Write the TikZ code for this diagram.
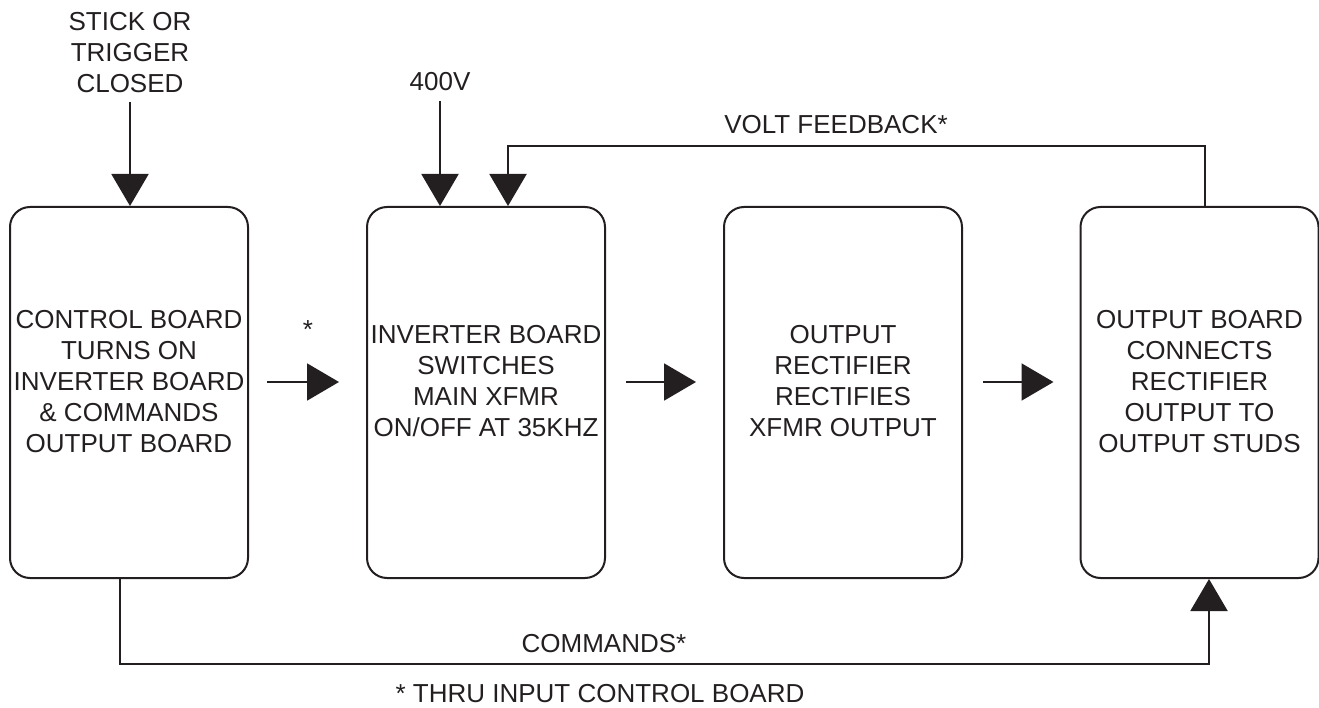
\documentclass[tikz,border=0pt]{standalone}
\usepackage{fontspec}
\setmainfont{Liberation Sans}
\usetikzlibrary{arrows.meta,calc}
\definecolor{ink}{HTML}{231F20}
\begin{document}
\begin{tikzpicture}[x=1pt,y=-1pt,
  ink/.style={draw=ink,line width=2pt},
  blockbox/.style={ink,rounded corners=20pt,minimum width=238pt,minimum height=371pt,inner sep=0pt},
  txt/.style={text=ink,font=\fontsize{26pt}{31pt}\selectfont,align=center,inner sep=0pt},
  arr/.style={ink,-{Triangle[length=32pt,width=37pt]}}
]
\useasboundingbox (0,0) rectangle (1319,708);
% boxes
\node[blockbox] (b1) at (129,392.5) {};
\node[blockbox] (b2) at (486,392.5) {};
\node[blockbox] (b3) at (843,392.5) {};
\node[blockbox] (b4) at (1199.5,392.5) {};
% box texts
\node[txt] (t1) at (129,382) {CONTROL BOARD\\TURNS ON\\INVERTER BOARD\\\& COMMANDS\\OUTPUT BOARD};
\node[txt] (t2) at (486,381) {INVERTER BOARD\\SWITCHES\\MAIN XFMR\\ON/OFF AT 35KHZ};
\node[txt] (t3) at (843,381) {OUTPUT\\RECTIFIER\\RECTIFIES\\XFMR OUTPUT};
\node[txt] (t4) at (1199.5,382) {OUTPUT BOARD\\CONNECTS\\RECTIFIER\\OUTPUT TO\\OUTPUT STUDS};
% labels
\node[txt] (stick) at (130,53) {STICK OR\\TRIGGER\\CLOSED};
\node[txt] (v400) at (440,81.5) {400V};
\node[txt,anchor=base] (star) at (308,338) {*};
\node[txt,anchor=base] (vfb) at (836,134) {VOLT FEEDBACK*};
\node[txt,anchor=base] (cmd) at (604,652) {COMMANDS*};
\node[txt,anchor=base] (note) at (600,702) {* THRU INPUT CONTROL BOARD};
% input arrows
\draw[arr] ([yshift=-9pt]stick.south) -- (stick.south |- b1.north);
\draw[arr] ([yshift=-10pt]v400.south) -- (v400.south |- b2.north);
% forward arrows
\draw[arr] ($(b1.east)+(18,-10.5)$) -- ($(b2.west)+(-27,-10.5)$);
\draw[arr] ($(b2.east)+(20,-10.5)$) -- ($(b3.west)+(-27,-10.5)$);
\draw[arr] ($(b3.east)+(20,-10.5)$) -- ($(b4.west)+(-26,-10.5)$);
% feedback
\coordinate (fbR) at (1205,146);
\coordinate (fbL) at (508,146);
\draw[arr] (b4.north -| fbR) -- (fbR) -- (fbL) -- (b2.north -| fbL);
% commands
\coordinate (cmdL) at (120,664);
\coordinate (cmdR) at (1209,664);
\draw[arr] (b1.south -| cmdL) -- (cmdL) -- (cmdR) -- (b4.south -| cmdR);
\end{tikzpicture}
\end{document}
